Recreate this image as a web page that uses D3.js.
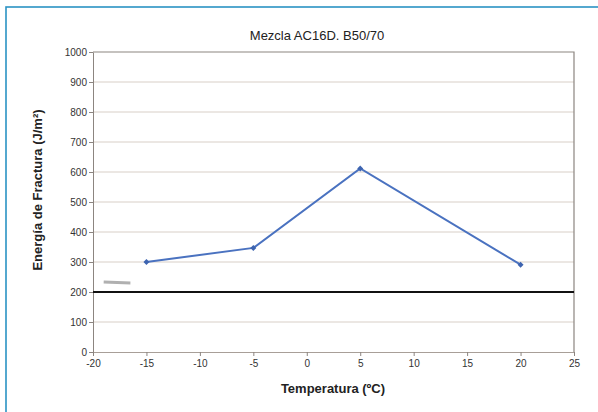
<!DOCTYPE html>
<html>
<head>
<meta charset="utf-8">
<script src="https://cdn.jsdelivr.net/npm/d3@7"></script>
<style>
  body { margin: 0; background: #fff; }
  svg { display: block; font-family: "Liberation Sans", Arial, sans-serif; }
</style>
</head>
<body>
<svg id="chart" width="598" height="412"></svg>
<script>
// data
const temps = [-15, -5, 5, 20];
const energia = [300, 347, 612, 291];
const xTicks = [-20, -15, -10, -5, 0, 5, 10, 15, 20, 25];
const yTicks = [0, 100, 200, 300, 400, 500, 600, 700, 800, 900, 1000];
const limite = 200;

var svg = d3.select('#chart');

var margin = {top: 52, right: 24, bottom: 60, left: 93},
    width = +svg.attr('width') - margin.left - margin.right,
    height = +svg.attr('height') - margin.top - margin.bottom;

// blue frame
svg.append('rect')
    .attr('x', 6).attr('y', 7)
    .attr('width', 620).attr('height', 440)
    .attr('fill', 'none')
    .attr('stroke', '#2b93c4')
    .attr('stroke-width', 1.6);

var x = d3.scaleLinear().domain([-20, 25]).range([0, width]);
var y = d3.scaleLinear().domain([0, 1000]).range([height, 0]);

var g = svg.append('g')
    .attr('transform', 'translate(' + margin.left + ',' + margin.top + ')');

// gridlines
g.append('g')
    .selectAll('line')
    .data(yTicks.filter(t => t > 0 && t < 1000))
  .enter().append('line')
    .attr('x1', 0).attr('x2', width)
    .attr('y1', d => y(d)).attr('y2', d => y(d))
    .attr('stroke', '#d8cfc7')
    .attr('stroke-width', 1);

// y axis
var yAxis = g.append('g')
    .call(d3.axisLeft(y).tickValues(yTicks).tickSize(4).tickSizeOuter(0)
        .tickFormat(d => String(d)));
yAxis.select('.domain').attr('stroke', '#8c8580');
yAxis.selectAll('.tick line').attr('stroke', '#8c8580');
yAxis.selectAll('.tick text')
    .attr('x', -6)
    .attr('font-size', 10)
    .attr('fill', '#333')
    .attr('font-family', '"Liberation Sans", Arial, sans-serif');

// x axis
var xAxis = g.append('g')
    .attr('transform', 'translate(0,' + height + ')')
    .call(d3.axisBottom(x).tickValues(xTicks).tickSize(4).tickSizeOuter(0)
        .tickFormat(d => String(d)));
xAxis.select('.domain').attr('stroke', '#a89f98');
xAxis.selectAll('.tick line').attr('stroke', '#8c8580');
xAxis.selectAll('.tick text')
    .attr('y', 8)
    .attr('font-size', 10)
    .attr('fill', '#333')
    .attr('font-family', '"Liberation Sans", Arial, sans-serif');

// top and right border
g.append('path')
    .attr('d', 'M0,0H' + width + 'V' + height)
    .attr('fill', 'none')
    .attr('stroke', '#8c8580')
    .attr('stroke-width', 1.2);

// faint grey mark left from the legend
g.append('line')
    .attr('x1', x(-19)).attr('x2', x(-16.5))
    .attr('y1', y(233)).attr('y2', y(230))
    .attr('stroke', '#b0b0b0')
    .attr('stroke-width', 3);

// reference line at 200
g.append('line')
    .attr('x1', 0).attr('x2', width)
    .attr('y1', y(limite)).attr('y2', y(limite))
    .attr('stroke', '#111')
    .attr('stroke-width', 2);

// series
var pts = temps.map((t, i) => [t, energia[i]]);
g.append('path')
    .datum(pts)
    .attr('fill', 'none')
    .attr('stroke', '#4a72c0')
    .attr('stroke-width', 2)
    .attr('d', d3.line().x(d => x(d[0])).y(d => y(d[1])));

g.selectAll('.pt')
    .data(pts)
  .enter().append('path')
    .attr('class', 'pt')
    .attr('transform', d => 'translate(' + x(d[0]) + ',' + y(d[1]) + ') rotate(45)')
    .attr('d', d3.symbol().type(d3.symbolSquare).size(18))
    .attr('fill', '#3d64b0');

// title and axis labels
svg.append('text')
    .attr('x', 317).attr('y', 40)
    .attr('text-anchor', 'middle')
    .attr('font-size', 13)
    .attr('fill', '#222')
    .text('Mezcla AC16D. B50/70');

svg.append('text')
    .attr('x', 333).attr('y', 393)
    .attr('text-anchor', 'middle')
    .attr('font-size', 13)
    .attr('font-weight', 'bold')
    .attr('fill', '#222')
    .text('Temperatura (ºC)');

svg.append('text')
    .attr('transform', 'translate(42,' + (margin.top + height / 2 - 12) + ') rotate(-90)')
    .attr('text-anchor', 'middle')
    .attr('font-size', 13)
    .attr('font-weight', 'bold')
    .attr('fill', '#222')
    .text('Energía de Fractura (J/m²)');
</script>
</body>
</html>
